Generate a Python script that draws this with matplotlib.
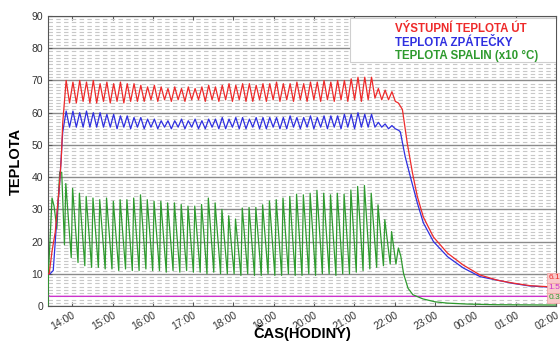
import numpy as np
import matplotlib.pyplot as plt
from matplotlib.lines import Line2D
from matplotlib.patches import Rectangle
from matplotlib.ticker import MultipleLocator

plt.rcParams['font.family'] = ['Liberation Sans', 'DejaVu Sans']

# cas v hodinach (24 = pulnoc), kotel cykluje cca po 10 minutach
T0 = 13.766
PERIOD = 10.1 / 60

hours = list(range(14, 27))
hour_labels = ['14:00', '15:00', '16:00', '17:00', '18:00', '19:00', '20:00',
               '21:00', '22:00', '23:00', '00:00', '01:00', '02:00']

# vystupni teplota UT
red_start_t = [13.40, 13.43, 13.50, 13.58, 13.68, 13.73, 13.766]
red_start = [10, 10, 17, 23, 37, 46, 57]
red_peaks = [70, 69.5, 70, 69.5, 70, 69, 69.5, 69, 69.5, 69,
             69, 68.5, 68, 68.5, 68, 67.5, 68, 67.5, 68, 67.5,
             68, 68.5, 68, 68.5, 69, 68.5, 69, 69, 68.5, 69,
             69, 69.5, 69, 69, 69.5, 69, 69.5, 69.5, 70, 69.5,
             70, 70, 70.5, 71, 71, 71, 67.5, 67, 66.5]
red_troughs = [63, 63, 63.5, 63, 63, 63.5, 63, 63.5, 63, 63.5,
               63.5, 63.5, 64, 63.5, 64, 63.5, 64, 63.5, 64, 64,
               63.5, 64, 63.5, 64, 63.5, 64, 63.5, 63.5, 64, 63.5,
               64, 63.5, 64, 63.5, 64, 63.5, 64, 63.5, 64, 63.5,
               64, 63.5, 64, 63.5, 64, 64.5, 64, 64, 63.5]
red_end_t = [22.09, 22.19, 22.31, 22.44, 22.56, 22.71, 22.96, 23.31, 23.70,
             24.12, 24.55, 24.94, 25.36, 25.79, 26.0]
red_end = [63, 61, 50.6, 41.3, 34, 27.6, 21.4, 16.4, 12.7, 9.6, 8, 7.1, 6.3, 6.0, 5.9]

# teplota zpatecky
blue_start_t = [13.40, 13.45, 13.53, 13.63, 13.70, 13.75, 13.766]
blue_start = [10, 10, 11, 29, 40, 51, 54]
blue_peaks = [60.5, 60.5, 60, 60.5, 60, 60, 59.5, 59.5, 59, 59,
              58.5, 58.5, 58, 58, 57.5, 57.5, 57.5, 58, 57.5, 58,
              57.5, 58, 58, 58.5, 58, 58.5, 58.5, 58, 58.5, 58.5,
              58.5, 58.5, 58.5, 59, 58.5, 58.5, 59, 58.5, 59, 59,
              59, 59.5, 59.5, 60, 59.5, 59.5, 57, 56.5, 56]
blue_troughs = [55.5, 55.5, 55.5, 55.5, 55.5, 55.5, 55.5, 55, 55.5, 55,
                55.5, 55, 55.5, 55, 55.5, 55, 55.5, 55, 55.5, 55,
                55, 55.5, 55, 55, 55.5, 55, 55, 55.5, 55, 55,
                55.5, 55, 55, 55.5, 55, 55.5, 55, 55.5, 55, 55.5,
                55, 55.5, 55, 55.5, 55.5, 55.5, 55.5, 55, 55]
blue_end_t = [22.10, 22.14, 22.26, 22.39, 22.56, 22.71, 22.96, 23.31, 23.70,
              24.12, 24.55, 24.94, 25.36, 25.79, 26.0]
blue_end = [54.5, 54, 46.3, 40, 32, 25.8, 20, 15.3, 11.8, 9.1, 8.0, 7, 6.2, 5.9, 5.8]

# teplota spalin (x10 °C)
green_start_t = [13.40, 13.41, 13.50, 13.55, 13.62, 13.69, 13.74]
green_start = [0, 10, 33.5, 31, 24, 41.5, 41.5]
green_troughs = [19, 15, 13.5, 12.5, 12, 12, 11.5, 11.5, 11, 11.5,
                 11, 11, 11.5, 11, 11, 10.5, 11, 10.5, 11, 10.5,
                 10.5, 10, 10.5, 10, 10, 10, 9.5, 10, 9.5, 9.5,
                 10, 9.5, 9.5, 10, 9.5, 9.5, 10, 9.5, 10, 10,
                 9.5, 10, 10, 10.5, 11, 11.5, 12, 12.5, 13]
green_peaks = [38, 36.5, 35, 34, 33.5, 33, 33.5, 32.5, 33, 33,
               33.5, 34.5, 33, 32.5, 32.5, 32, 32, 31.5, 31, 31,
               31.5, 33.5, 32, 30, 28, 27, 30.4, 30.6, 30.6, 31.4,
               32.6, 33, 33.5, 34, 34.7, 34.5, 35, 35.9, 35, 34.5,
               35, 34.7, 36, 37.1, 37.4, 35, 31.4, 26.8, 23.1]
green_end_t = [22.03, 22.09, 22.15, 22.22, 22.33, 22.45, 22.70, 23.0, 23.3,
               23.8, 24.5, 26.0]
green_end = [13, 18, 15.5, 10, 5.5, 3.5, 2.2, 1.3, 0.9, 0.6, 0.4, 0.3]

# cidlo 4
mag_t = [13.40, 13.45, 26.0]
mag = [3.3, 3.0, 3.0]

series_labels = ['VÝSTUPNÍ TEPLOTA ÚT', 'TEPLOTA ZPÁTEČKY', 'TEPLOTA SPALIN (x10 °C)']
series_colors = ['#ee2a2a', '#2f2fe0', '#2e9a2e']


def build(start_t, start_v, first, second, a, b, end_t, end_v):
    k = np.arange(len(first))
    tt = np.column_stack([T0 + (k + a) * PERIOD, T0 + (k + b) * PERIOD]).ravel()
    vv = np.column_stack([first, second]).ravel()
    return (np.concatenate([start_t, tt, end_t]),
            np.concatenate([start_v, vv, end_v]))


fig = plt.figure(figsize=(5.6, 3.46), dpi=100)
ax = fig.add_axes([48 / 560, 1 - 306 / 346, 508 / 560, 290 / 346])

rt, rv = build(red_start_t, red_start, red_peaks, red_troughs, 0.5, 1.0, red_end_t, red_end)
bt, bv = build(blue_start_t, blue_start, blue_peaks, blue_troughs, 0.5, 1.0, blue_end_t, blue_end)
gt, gv = build(green_start_t, green_start, green_troughs, green_peaks, 0.25, 0.45, green_end_t, green_end)

ax.plot(mag_t, mag, color='#cc33cc', lw=1.0, zorder=3)
ax.plot(gt, gv, color=series_colors[2], lw=0.9, zorder=4)
ax.plot(bt, bv, color=series_colors[1], lw=0.9, zorder=5)
ax.plot(rt, rv, color=series_colors[0], lw=0.9, zorder=6)

ax.set_xlim(13.40, 26.0)
ax.set_ylim(0, 90)
ax.set_xticks(hours)
ax.set_xticklabels(hour_labels, rotation=30, ha='right', rotation_mode='anchor')
ax.yaxis.set_major_locator(MultipleLocator(10))
ax.yaxis.set_minor_locator(MultipleLocator(1))
ax.tick_params(axis='both', which='major', direction='in', labelsize=7.5,
               labelcolor='#333333', color='#555555', length=3, top=True)
ax.tick_params(axis='x', pad=3)
ax.tick_params(axis='y', which='minor', length=0)

ax.grid(True, axis='y', which='major', color='#8a8a8a', lw=1.0)
ax.grid(True, axis='y', which='minor', color='#c8c8c8', lw=0.8, ls=(0, (4, 3)))
ax.set_axisbelow(True)
for s in ax.spines.values():
    s.set_color('#555555')

ax.set_ylabel('TEPLOTA', fontsize=10.5, fontweight='bold', labelpad=6)
ax.set_xlabel('ČAS(HODINY)', fontsize=10.5, fontweight='bold')
ax.xaxis.set_label_coords(0.5, -0.092)
ax.xaxis.label.set_va('center')

# ramecek legendy
ax.add_patch(Rectangle((302 / 508, 244 / 290), 206 / 508, 44 / 290, transform=ax.transAxes,
                       fc='white', ec='#cfcfcf', lw=0.8, zorder=9))
handles = [Line2D([], [], color='none') for _ in series_labels]
leg = ax.legend(handles, series_labels, loc='upper left', bbox_to_anchor=(345 / 508, 285 / 290),
                handlelength=0, handletextpad=0, labelcolor=series_colors,
                fontsize=8.3, frameon=False, borderpad=0.2, labelspacing=0.12, borderaxespad=0)
for t in leg.get_texts():
    t.set_fontweight('bold')
leg.set_zorder(10)

# popisky poslednich hodnot na pravem okraji
end_labels = ['6.1', '1.5', '0.3']
end_label_y = [8.7, 5.6, 2.5]
end_colors = ['#ee2a2a', '#cc33cc', '#2e9a2e']
for txt, yy, c in zip(end_labels, end_label_y, end_colors):
    ax.text(25.82, yy, txt, fontsize=6, color=c, va='center', ha='left', zorder=11,
            clip_on=False,
            bbox=dict(boxstyle='square,pad=0.2', fc='#f9caca', ec='#f0a0a0', lw=0.5))

fig.savefig('out.png', dpi=100)
